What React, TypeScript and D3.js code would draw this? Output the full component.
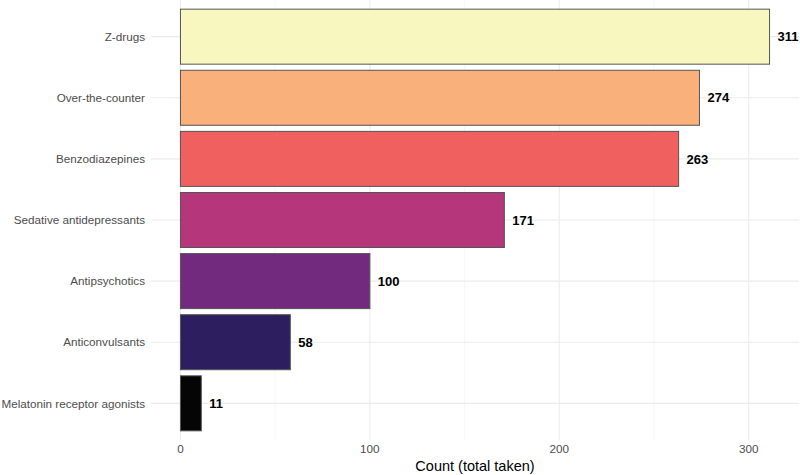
import { useEffect, useRef } from "react";
import * as d3 from "d3";

const categories = [
  "Z-drugs",
  "Over-the-counter",
  "Benzodiazepines",
  "Sedative antidepressants",
  "Antipsychotics",
  "Anticonvulsants",
  "Melatonin receptor agonists",
];
const counts = [311, 274, 263, 171, 100, 58, 11];
const barColors = ["#F9F7C0", "#F9B07B", "#F0605E", "#B5367A", "#722A7F", "#2D1E5F", "#050505"];
const xTicks = [0, 100, 200, 300];
const xMinor = [50, 150, 250];

const FONT = "'Liberation Sans', Arial, Helvetica, sans-serif";

export default function App() {
  const ref = useRef<SVGSVGElement>(null);

  useEffect(() => {
    if (!ref.current) return;
    const W = 800, H = 475;
    const PL = 151, PR = 799, PT = 0, PB = 440;

    const svg = d3.select(ref.current).attr("width", W).attr("height", H);
    svg.selectAll("*").remove();

    const maxV = d3.max(counts) ?? 1;
    const pad = maxV * 0.05;
    const x = d3.scaleLinear().domain([-pad, maxV + pad]).range([PL, PR]);

    // discrete axis with ggplot-style 0.6 expansion
    const n = categories.length;
    const step = (PB - PT) / (n - 1 + 1.2);
    const yc = (i: number) => PT + 0.6 * step + i * step;
    const bh = step * 0.9;

    const grid = svg.append("g");
    // minor vertical
    grid.selectAll("line.minor").data(xMinor).enter().append("line")
      .attr("x1", d => x(d)).attr("x2", d => x(d))
      .attr("y1", PT).attr("y2", PB)
      .attr("stroke", "#F2F2F2").attr("stroke-width", 0.6);
    // major vertical
    grid.selectAll("line.major").data(xTicks).enter().append("line")
      .attr("x1", d => x(d)).attr("x2", d => x(d))
      .attr("y1", PT).attr("y2", PB)
      .attr("stroke", "#EBEBEB").attr("stroke-width", 1.1);
    // horizontal
    grid.selectAll("line.h").data(categories).enter().append("line")
      .attr("x1", PL).attr("x2", PR)
      .attr("y1", (_, i) => yc(i)).attr("y2", (_, i) => yc(i))
      .attr("stroke", "#EBEBEB").attr("stroke-width", 1.1);

    // Bars
    svg.selectAll("rect.bar").data(counts).enter().append("rect")
      .attr("x", x(0))
      .attr("y", (_, i) => yc(i) - bh / 2)
      .attr("width", d => x(d) - x(0))
      .attr("height", bh)
      .attr("fill", (_, i) => barColors[i])
      .attr("stroke", "#555555").attr("stroke-width", 1);

    // Value labels
    svg.selectAll("text.val").data(counts).enter().append("text")
      .attr("x", d => x(d) + 8)
      .attr("y", (_, i) => yc(i))
      .attr("dy", "0.36em")
      .attr("font-family", FONT).attr("font-size", 13).attr("font-weight", 700)
      .attr("fill", "#000")
      .text(d => d);

    // Y labels
    svg.selectAll("text.cat").data(categories).enter().append("text")
      .attr("x", PL - 6)
      .attr("y", (_, i) => yc(i))
      .attr("dy", "0.36em")
      .attr("text-anchor", "end")
      .attr("font-family", FONT).attr("font-size", 11.7)
      .attr("fill", "#4D4D4D")
      .text(d => d);

    // X tick labels
    svg.selectAll("text.xt").data(xTicks).enter().append("text")
      .attr("x", d => x(d))
      .attr("y", PB + 13)
      .attr("text-anchor", "middle")
      .attr("font-family", FONT).attr("font-size", 11.7)
      .attr("fill", "#4D4D4D")
      .text(d => d);

    // X title
    svg.append("text")
      .attr("x", (PL + PR) / 2)
      .attr("y", H - 4)
      .attr("text-anchor", "middle")
      .attr("font-family", FONT).attr("font-size", 14.5)
      .attr("fill", "#000")
      .text("Count (total taken)");
  }, []);

  return (
    <div style={{ position: "absolute", left: 0, top: 0 }}>
      <svg ref={ref} style={{ display: "block" }} />
    </div>
  );
}
